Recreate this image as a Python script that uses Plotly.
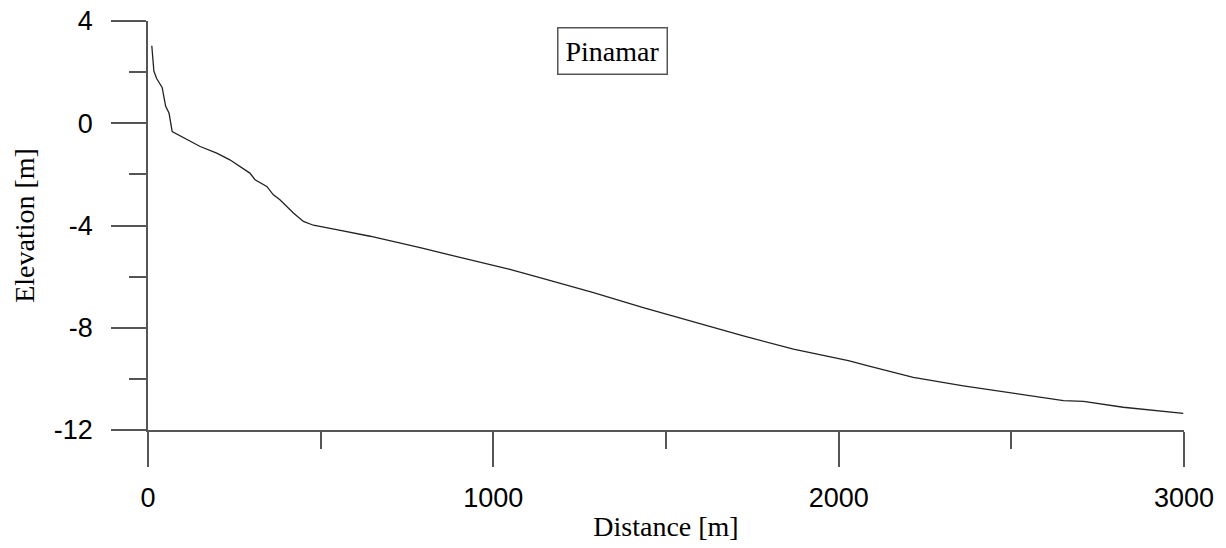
import plotly.graph_objects as go

distance_m = [11, 17, 25, 41, 51, 61, 70, 151, 199, 237, 295, 310, 344, 363, 382, 402, 421, 450,
              479, 546, 643, 788, 932, 1048, 1145, 1290, 1434, 1579, 1724, 1869, 2028, 2091,
              2216, 2361, 2506, 2651, 2709, 2824, 2998]
elevation_m = [3.03, 2.04, 1.75, 1.40, 0.67, 0.39, -0.33, -0.91, -1.17, -1.43, -1.95, -2.21, -2.47,
               -2.80, -2.99, -3.25, -3.51, -3.84, -3.99, -4.16, -4.42, -4.87, -5.33, -5.72, -6.08,
               -6.63, -7.21, -7.77, -8.32, -8.84, -9.29, -9.51, -9.94, -10.27, -10.55, -10.85,
               -10.88, -11.11, -11.35]
profile_name = "Pinamar"
y_tick_values = [-12, -8, -4, 0, 4]
y_tick_labels = ["-12", "-8", "-4", "0", "4"]

axis_color = "#555555"
sans = "Liberation Sans, Arial, sans-serif"
serif = "Liberation Serif, Times New Roman, serif"

fig = go.Figure()
fig.add_trace(go.Scatter(x=distance_m, y=elevation_m, mode="lines",
                         line=dict(color="#222222", width=1.3), showlegend=False))

fig.update_layout(
    width=1226, height=548,
    margin=dict(l=148, r=42, t=21, b=118),
    plot_bgcolor="white", paper_bgcolor="white",
    xaxis=dict(range=[0, 3000], dtick=1000, tick0=0, showgrid=False, zeroline=False,
               automargin=False,
               showline=True, linecolor=axis_color, linewidth=1.5,
               ticks="outside", ticklen=35, tickwidth=1.5, tickcolor=axis_color,
               minor=dict(dtick=500, tick0=0, ticks="outside", ticklen=17, tickwidth=1.5,
                          tickcolor=axis_color, showgrid=False),
               tickfont=dict(family=sans, size=27, color="black"),
               ticklabelstandoff=8,
               title=dict(text="Distance [m]", font=dict(family=serif, size=28, color="black"),
                          standoff=4)),
    yaxis=dict(range=[-12, 4], tickmode="array", tickvals=y_tick_values, ticktext=y_tick_labels,
               showgrid=False, zeroline=False, automargin=False,
               showline=True, linecolor=axis_color, linewidth=1.5,
               ticks="outside", ticklen=35, tickwidth=1.5, tickcolor=axis_color,
               minor=dict(dtick=2, tick0=-12, ticks="outside", ticklen=17, tickwidth=1.5,
                          tickcolor=axis_color, showgrid=False),
               tickfont=dict(family=sans, size=27, color="black"),
               ticklabelstandoff=13,
               title=dict(text="Elevation [m]", font=dict(family=serif, size=28, color="black"),
                          standoff=11)),
    annotations=[dict(text=profile_name, xref="paper", yref="paper", x=0.448, y=0.927,
                      xanchor="center", yanchor="middle", showarrow=False,
                      font=dict(family=serif, size=28, color="black"),
                      bordercolor=axis_color, borderwidth=1.5, borderpad=7, bgcolor="white")],
)

fig.write_html("out.html")
